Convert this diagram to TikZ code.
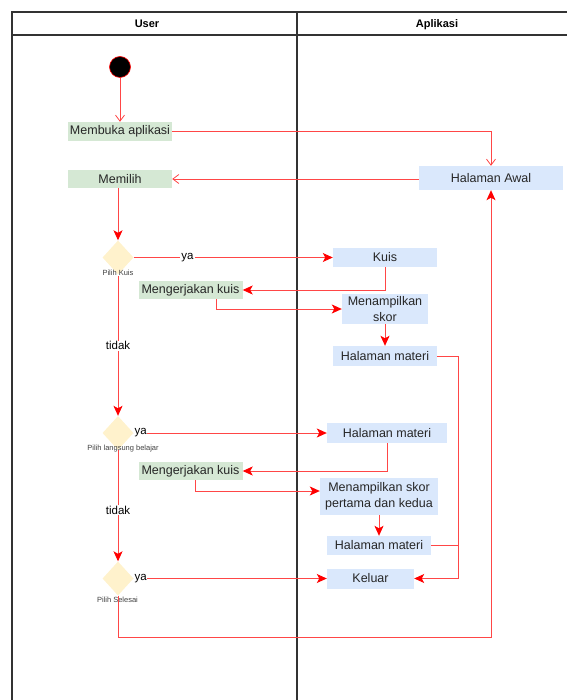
\documentclass[tikz,border=0pt]{standalone}
\usepackage{fontspec}
\setmainfont{Liberation Sans}
\usetikzlibrary{arrows.meta,shapes.geometric}
\definecolor{usergreen}{HTML}{D5E8D4}
\definecolor{appblue}{HTML}{DAE8FC}
\definecolor{choiceyellow}{HTML}{FFF2CC}
\definecolor{flowred}{RGB}{255,70,70}

\begin{document}
\begin{tikzpicture}[x=1pt,y=-1pt,
  lane/.style={draw=black!80,line width=1.2pt},
  head/.style={font=\bfseries\fontsize{11}{13}\selectfont,text height=8pt,text depth=2pt},
  user/.style={fill=usergreen,minimum width=104pt,minimum height=19pt,inner sep=0pt,text=black!85,font=\fontsize{12.5}{16}\selectfont,align=center},
  app/.style={fill=appblue,inner sep=0pt,text=black!85,font=\fontsize{12.5}{16}\selectfont,align=center},
  choice/.style={diamond,fill=choiceyellow,minimum width=31pt,minimum height=34pt,inner sep=0pt},
  tiny/.style={font=\fontsize{7.5}{9}\selectfont,text=black!75,inner sep=0pt},
  guard/.style={font=\fontsize{11.5}{13}\selectfont,fill=white,inner sep=1pt},
  flow/.style={draw=flowred,line width=0.9pt,-{Stealth[length=10pt,width=9pt,inset=2.5pt,color=red]}},
  open/.style={draw=flowred,line width=0.9pt,-{Straight Barb[length=6pt,width=9pt,line width=0.8pt]}},
  plain/.style={draw=flowred,line width=0.9pt}]
\useasboundingbox (0,0) rectangle (566,700);
\draw[lane] (12,710) -- (12,12) -- (580,12);
\draw[lane] (12,35) -- (580,35);
\draw[lane] (297,12) -- (297,710);
\node[head] (U) at (147,24.5) {User};
\node[head] (A) at (437,24.5) {Aplikasi};

\node[circle,fill=black,draw=red,line width=0.6pt,minimum size=21pt,inner sep=0pt] (S) at (120,67) {};
\node[user] (MA) at (120,131.5) {Membuka aplikasi};
\node[user,minimum height=18pt] (M) at (120,179) {Memilih};
\node[app,minimum width=144pt,minimum height=24pt] (HA) at (491,178) {Halaman Awal};

\node[choice] (D1) at (118,257.5) {};
\node[tiny] (L1) at (118,273) {Pilih Kuis};
\node[app,minimum width=104pt,minimum height=19pt] (K) at (385,257.5) {Kuis};
\node[user,minimum height=18pt] (MK1) at (190.5,290) {Mengerjakan kuis};
\node[app,minimum width=86pt,minimum height=30pt] (MS1) at (385,309) {Menampilkan\\skor};
\node[app,minimum width=104pt,minimum height=20pt] (HM1) at (385,356) {Halaman materi};

\node[choice] (D2) at (118,433) {};
\node[tiny] (L2) at (123,449) {Pilih langsung belajar};
\node[app,minimum width=120pt,minimum height=20pt] (HM2) at (387,433) {Halaman materi};
\node[user,minimum height=18pt] (MK2) at (190.5,471) {Mengerjakan kuis};
\node[app,minimum width=118pt,minimum height=37pt] (MS2) at (379,496.5) {Menampilkan skor\\pertama dan kedua};
\node[app,minimum width=104pt,minimum height=19pt] (HM3) at (379,545.5) {Halaman materi};

\node[choice] (D3) at (118,578.5) {};
\node[tiny] (L3) at (117.5,600) {Pilih Selesai};
\node[app,minimum width=87pt,minimum height=20pt] (KL) at (370.5,578.5) {Keluar};

\coordinate (R) at (458,356);
\coordinate (B) at (118,637);

\draw[open] (S) -- (MA);
\draw[open] (MA.east) -| (HA.north);
\draw[open] (HA.west |- M.east) -- (M.east);
\draw[flow] (D1.north |- M.south) -- (D1.north);
\draw[flow] (D1.east) -- node[guard,pos=0.27] {ya} (K.west);
\draw[flow] (K.south) |- (MK1.east);
\draw[flow] ([xshift=26pt]MK1.south) |- (MS1.west);
\draw[flow] (MS1.south) -- (HM1.north);
\draw[flow] (HM1.east) -- (R) |- (KL.east);
\draw[flow] (L1.south) -- node[guard,pos=0.5] {tidak} (D2.north);
\draw[flow] (D2.east) -- node[guard,pos=0,anchor=west,inner sep=0.5pt] {ya} (HM2.west);
\draw[flow] (HM2.south) |- (MK2.east);
\draw[flow] ([xshift=4.5pt]MK2.south) |- ([yshift=5.5pt]MS2.west);
\draw[flow] (MS2.south) -- (HM3.north);
\draw[plain] (HM3.east) -- (HM3.east -| R);
\draw[flow] (D2.south) -- node[guard,pos=0.54] {tidak} (D3.north);
\draw[flow] (D3.east) -- node[guard,pos=0,anchor=west,inner sep=0.5pt] {ya} (KL.west);
\draw[flow] (D3.south) -- (B) -| (HA.south);
\end{tikzpicture}
\end{document}
